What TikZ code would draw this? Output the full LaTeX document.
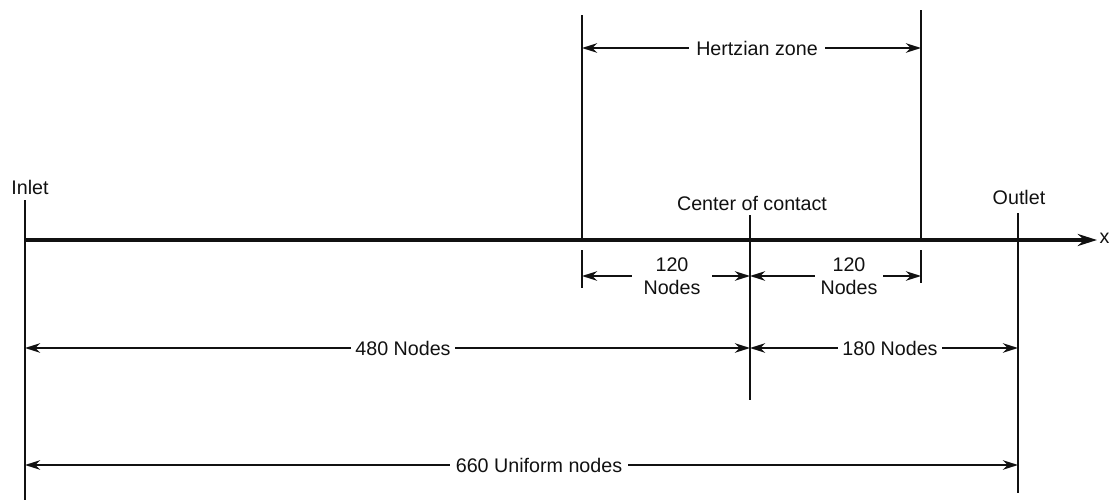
\documentclass[tikz,border=0pt]{standalone}
\usepackage{fontspec}
\setmainfont{Liberation Sans}
\usetikzlibrary{positioning, arrows.meta, calc}
\definecolor{inkBlack}{HTML}{111111}
\tikzset{
  bound/.style    = {draw=inkBlack, line width=2pt},
  zone/.style     = {draw=inkBlack, line width=1.2pt},
  centerln/.style = {draw=inkBlack, line width=0.9pt},
  axisline/.style = {draw=inkBlack, line width=2.4pt,
                     -{Stealth[length=4.8mm, width=3mm]}},
  dimline/.style  = {draw=inkBlack, line width=1.1pt,
                     -{Stealth[length=3.8mm, width=2.4mm]}},
  tag/.style      = {font=\fontsize{14}{16}\selectfont, text=inkBlack,
                     inner sep=1pt},
  dimtext/.style  = {tag, align=center, inner xsep=3pt}
}

\begin{document}
\begin{tikzpicture}[x=0.025cm, y=-0.025cm]
\useasboundingbox (0,0) rectangle (1114,500);

% boundaries and axis
\coordinate (inTop) at (25,200);
\coordinate (inBot) at (25,500);
\coordinate (outTop) at (1018,213);
\coordinate (outBot) at (1018,493);
\coordinate (axL) at (25,240);
\coordinate (axR) at (1097,240);
\draw[bound] (inTop) -- (inBot);
\draw[bound] (outTop) -- (outBot);
\draw[axisline] (axL) -- (axR);
\node[tag, anchor=west] (xlab) at (1098,238) {x};
\node[tag] (inlet) at (30,187) {Inlet};
\node[tag] (outlet) at (1019,197) {Outlet};

% hertzian zone
\coordinate (hzLTop) at (582,15);
\coordinate (hzLAx) at (582,240);
\coordinate (hzRTop) at (921,10);
\coordinate (hzRAx) at (921,240);
\draw[zone] (hzLTop) -- (hzLAx);
\draw[zone] (hzRTop) -- (hzRAx);
\draw[zone] (582,250) -- (582,288);
\draw[zone] (921,250) -- (921,283);
\node[dimtext, inner xsep=5pt] (hz) at (757,48) {Hertzian zone};
\draw[dimline] (hz.west) -- (hzLTop |- hz);
\draw[dimline] (hz.east) -- (hzRTop |- hz);

% center of contact
\coordinate (ccTop) at (750,215);
\coordinate (ccBot) at (750,400);
\draw[centerln] (ccTop) -- (ccBot);
\node[tag] (cc) at (752,203) {Center of contact};

% node counts
\node[dimtext, minimum width=2cm] (nl) at (672,276) {120\\Nodes};
\draw[dimline] (nl.west) -- (hzLTop |- nl);
\draw[dimline] (nl.east) -- (ccTop |- nl);
\node[dimtext, minimum width=1.7cm] (nr) at (849,276) {120\\Nodes};
\draw[dimline] (nr.west) -- (ccTop |- nr);
\draw[dimline] (nr.east) -- (hzRTop |- nr);

\node[dimtext] (n480) at (403,348) {480 Nodes};
\draw[dimline] (n480.west) -- (inTop |- n480);
\draw[dimline] (n480.east) -- (ccTop |- n480);
\node[dimtext] (n180) at (890,348) {180 Nodes};
\draw[dimline] (n180.west) -- (ccTop |- n180);
\draw[dimline] (n180.east) -- (outTop |- n180);

\node[dimtext, inner xsep=4pt] (n660) at (539,465) {660 Uniform nodes};
\draw[dimline] (n660.west) -- (inTop |- n660);
\draw[dimline] (n660.east) -- (outTop |- n660);
\end{tikzpicture}
\end{document}
